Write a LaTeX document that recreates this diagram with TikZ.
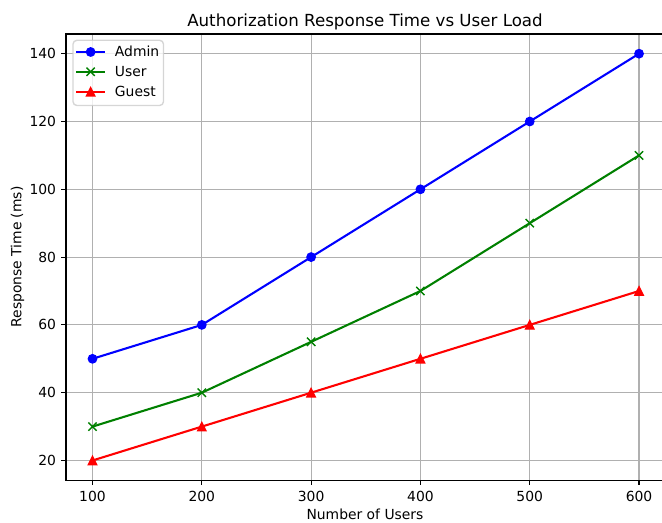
\documentclass[tikz,border=0pt]{standalone}
\usepackage{fontspec}
\setmainfont{DejaVu Sans}
\definecolor{gridgray}{HTML}{B0B0B0}
\definecolor{legedge}{HTML}{CCCCCC}
\definecolor{mplgreen}{rgb}{0,0.5,0}
\newcommand\myX[1]{92.5+(#1-100)*1.0931}
\newcommand\myY[1]{53.7+(140-#1)*3.39}
\begin{document}
\begin{tikzpicture}[x=0.72pt,y=-0.72pt,
  gridline/.style={gridgray,line width=0.8pt},
  spine/.style={black,line width=0.8pt},
  lbl/.style={font=\fontsize{10}{12}\selectfont,inner sep=0pt},
  ttl/.style={font=\fontsize{12}{14}\selectfont,inner sep=0pt},
  admline/.style={blue,line width=1.5pt,line join=round},
  usrline/.style={mplgreen,line width=1.5pt,line join=round},
  gstline/.style={red,line width=1.5pt,line join=round},
  admmark/.style={circle,fill=blue,draw=blue,line width=1pt,inner sep=0pt,minimum size=6pt},
  usrmark/.style={mplgreen,line width=1pt},
  gstmark/.style={red,fill=red,line width=1pt,line join=miter}]
\useasboundingbox (0,0) rectangle (662,523);
\begin{scope}
\clip (0,0) rectangle (662,523);
% grid
\foreach \v in {100,200,...,600}
  \draw[gridline] ({\myX{\v}},34) -- ({\myX{\v}},480.5);
\foreach \v in {20,40,...,140}
  \draw[gridline] (66,{\myY{\v}}) -- (666,{\myY{\v}});
% data coordinates
\foreach \i/\xv/\a/\u/\g in {1/100/50/30/20,2/200/60/40/30,3/300/80/55/40,4/400/100/70/50,5/500/120/90/60,6/600/140/110/70}{
  \coordinate (a\i) at ({\myX{\xv}},{\myY{\a}});
  \coordinate (u\i) at ({\myX{\xv}},{\myY{\u}});
  \coordinate (g\i) at ({\myX{\xv}},{\myY{\g}});
}
% Admin
\draw[admline] (a1) -- (a2) -- (a3) -- (a4) -- (a5) -- (a6);
\foreach \i in {1,...,6} \node[admmark] (am\i) at (a\i) {};
% User
\draw[usrline] (u1) -- (u2) -- (u3) -- (u4) -- (u5) -- (u6);
\foreach \i in {1,...,6}
  \draw[usrmark] (u\i) ++(-4.15,-4.15) -- ++(8.3,8.3) (u\i) ++(-4.15,4.15) -- ++(8.3,-8.3);
% Guest
\draw[gstline] (g1) -- (g2) -- (g3) -- (g4) -- (g5) -- (g6);
\foreach \i in {1,...,6}
  \filldraw[gstmark] (g\i) ++(0,-4.15) -- ++(4.15,8.3) -- ++(-8.3,0) -- cycle;
% spines
\draw[spine] (666,34) -- (66,34) -- (66,480.5) -- (666,480.5);
\end{scope}
% ticks and labels
\foreach \v in {100,200,...,600}{
  \draw[spine] ({\myX{\v}},480.5) -- ({\myX{\v}},485.4);
  \node[lbl,anchor=base] (xt\v) at ({\myX{\v}},501.7) {\v};
}
\foreach \v in {20,40,...,140}{
  \draw[spine] (66,{\myY{\v}}) -- (61.1,{\myY{\v}});
  \node[lbl,anchor=base east] (yt\v) at (56.3,{\myY{\v}+5}) {\v};
}
% title and axis labels
\node[ttl,anchor=base] (title) at (365,26.7) {Authorization Response Time vs User Load};
\node[lbl,anchor=base] (xlabel) at (365,519.5) {Number of Users};
\node[lbl,anchor=base,rotate=90] (ylabel) at (21.5,257) {Response Time (ms)};
% legend
\filldraw[draw=legedge,fill=white,fill opacity=0.8,draw opacity=0.8,line width=1pt,rounded corners=2.8pt]
  (73,40.3) rectangle (163.5,105.5);
\coordinate (la1) at (76.3,52); \coordinate (la2) at (105,52);
\coordinate (lu1) at (76.3,71.8); \coordinate (lu2) at (105,71.8);
\coordinate (lg1) at (76.3,91.8); \coordinate (lg2) at (105,91.8);
\draw[admline] (la1) -- (la2);
\node[admmark] (lam) at (90.65,52) {};
\draw[usrline] (lu1) -- (lu2);
\draw[usrmark] (90.65,71.8) ++(-4.15,-4.15) -- ++(8.3,8.3) (90.65,71.8) ++(-4.15,4.15) -- ++(8.3,-8.3);
\draw[gstline] (lg1) -- (lg2);
\filldraw[gstmark] (90.65,91.8) ++(0,-4.15) -- ++(4.15,8.3) -- ++(-8.3,0) -- cycle;
\node[lbl,anchor=base west] (ltA) at (114.7,57) {Admin};
\node[lbl,anchor=base west] (ltU) at (114.7,76.8) {User};
\node[lbl,anchor=base west] (ltG) at (114.7,96.8) {Guest};
\end{tikzpicture}
\end{document}
